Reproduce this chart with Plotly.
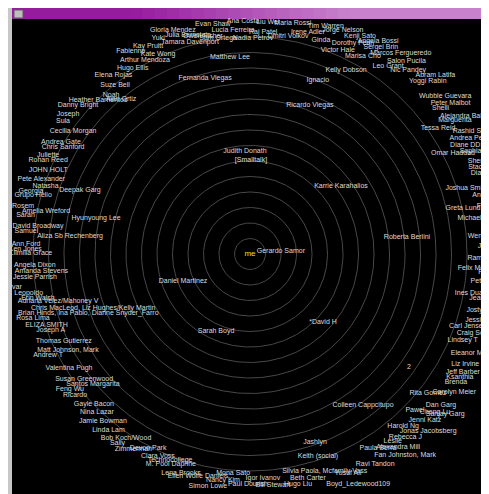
import numpy as np
import plotly.graph_objects as go

# ---- data (ring distance r, angle theta in degrees) ----
ring_radii = list(range(1, 15))

inner_names = ["Gerardo Samor", "Judith Donath", "[Smalltalk]", "Karrie Karahalios",
               "Roberta Berlini", "Daniel Martinez", "Sarah Boyd", "*David H",
               "Fernanda Viegas", "Matthew Lee", "Ignacio", "Kelly Dobson",
               "Ricardo Viegas", "Deepak Garg", "Hyunyoung Lee", "Aliza Sb Rechenberg",
               "Valentina Pugh", "Colleen Cappcitupo", "Jashlyn", "Keith (social)", "2",
               "Chris MacLeod, Liz Hughes/Kelly Martin", "Brian Hinds, Ina Pablo, Dianne Snyder_Farro",
               "Adriana Velez/Mahoney V"]
inner_r = [2.0, 6.65, 6.06, 7.33, 10.19, 4.66, 5.43, 6.44, 11.72, 12.78, 12.05, 13.39,
           10.36, 11.72, 10.2, 11.67, 13.8, 12.17, 12.83, 13.75, 12.58, 10.7, 11.1, 12.75]
inner_theta = [5.5, 92.8, 89.4, 36.8, 6.2, 202, 246.2, 317, 104.3, 95.8, 68.7, 62.4,
               68.1, 159.4, 166.8, 174.3, 212.2, 306.8, 289.1, 288.6, 324.6, 199, 200, 193.8]

outer_names = [
    "Heather Barrientos", "Danny Bright", "Joseph", "Sula", "Cecilia Morgan", "Andrea Gate",
    "Chris Sanford", "Juliette", "Rohan Reed", "JOHN HOLT", "Pete Alexander", "Natasha",
    "Georgia", "Grupo Helio", "Rosem", "Amelia Wreford", "Sarah", "David Broadway",
    "Samuel", "Ann Ford", "Ken Jones", "Lilmilla Grace", "Angela Dixon", "Amanda Stevens",
    "Jessie Parrish", "Ivar", "Leopoldo", "ELIZA SMITH", "Joseph A", "Thomas Gutierrez",
    "Matt Johnson, Mark", "Andrew T", "Susan Greenwood", "Santos Margarita", "Feng Wu",
    "Ricardo", "Gayle Bacon", "Nina Lazar", "Jamie Bowman", "Linda Lam", "Bob Koch/Wood",
    "Sally", "Zimmerman", "Technocollege", "M. Pool Daphne", "Lena Brooks",
    "Ellen Wolfe Daniels", "Nancy Kim", "Paul Dourish", "Bill Stewart", "Hugo Liu",
    "Boyd_Ledewood109", "Silvia Paola, Mcfamily Vass", "Ravi Tandon", "Fan Johnston, Mark",
    "Alexandra Mill", "Leslie", "Rebecca J", "Jonas Jacobsberg", "Jenni Katz", "Pawel",
    "Cheng Lu", "Sanjay Garg", "Dan Garg", "Carolyn Meier", "Brenda", "Ksanthia",
    "Jeff Barber", "Liz Irvine", "Eleanor Marques", "Lindsey T", "Craig Sorenson",
    "Jessica Long", "Jostyn Treloar", "Jeanne Bolt", "Pete Burke", "Pia", "Ramona Cho",
    "Jane", "Wendy Rand", "Michael Tang", "Fedora", "Anastasia", "Joshua Smither", "Dias",
    "Stacie Goo", "Sherry Lee", "Sophia", "Diane DDS", "Andrea Petrovic", "Rashid Sen",
    "Marguerita", "Alejandra Ballaji", "Shelli", "Peter Malbot", "Wubble Guevara",
    "Yoggi Rabin", "Abram Latifa", "Nic Pandey", "Salon Pucila", "Marcos Fergueredo",
    "Sergei Brin", "Angela Bossi", "Ginda", "Tim Warren", "Jorge Nelson", "Kenji Sato",
    "Dorothy Fenn", "Maria Rossi", "Liu Wei", "Ana Costa", "Evan Shaw", "Julia Bernstein",
    "Tamara Davenport", "Kay Pruitt", "Fabienne", "Arthur Mendoza", "Hugo Ellis",
    "Elena Rojas", "Suze Bell", "Noah", "Alan Ortiz", "Yuki",
    "Gloria Mendez", "Owen Fisher", "Lucia Ferreira", "Raj Patel", "Dmitri Volkov",
    "Irene Adler", "Kate Wong", "Sam Ortega", "Nadia Petrov", "Victor Hale",
    "Marisa Cho", "Leo Grant", "Tessa Reid", "Omar Haddad", "Greta Lund",
    "Felix Moreau", "Ines Duarte", "Carl Jensen", "Rita Gomez", "Harold Ng",
    "Paula Serra", "Yusuf Ali", "Beth Carter", "Igor Ivanov", "Mona Sato",
    "Simon Lowe", "Clara Voss", "Devon Park", "Erin Walsh", "Rosa Lima",
]
outer_r = [
    13.96, 14.68, 14.81, 14.8, 13.9, 14.17, 13.9, 14.5, 14.37, 14.1, 14.3, 13.9,
    14.7, 14.5, 14.97, 13.45, 14.7, 13.8, 14.5, 14.46, 14.5, 14.13, 13.9, 13.5,
    13.95, 15.25, 14.5, 13.9, 13.77, 13.25, 13.28, 14.57, 13.4, 13.15, 14.55,
    14.5, 14.0, 14.2, 14.35, 14.6, 14.3, 14.9, 14.7, 14.26, 14.5, 14.8,
    14.7, 14.7, 14.84, 14.97, 15.16, 16.4, 14.8, 15.77, 16.4,
    15.7, 15.2, 15.5, 16.2, 15.56, 14.65, 15.7, 16.3, 15.7, 15.9, 15.65, 15.7,
    15.7, 15.6, 16.0, 14.8, 15.75, 15.8, 15.8, 15.6, 15.45, 15.1, 15.36,
    15.2, 15.4, 14.9, 15.66, 15.8, 14.8, 15.6, 16.2, 16.3, 15.7, 15.7, 16.3, 16.3,
    15.8, 16.5, 15.5, 16.2, 16.2, 16.0, 16.6, 15.65, 16.0, 16.2,
    15.8, 16.0, 14.5, 15.5, 15.65, 15.75, 15.15, 15.16, 15.0, 15.0, 15.0, 14.7,
    14.2, 14.95, 15.2, 14.2, 14.2, 14.5, 13.95, 13.6, 13.0, 15.1,
    15.28, 14.39, 14.5, 14.35, 14.28, 14.8, 14.2, 14.09, 13.94, 14.33,
    14.7, 15.05, 14.6, 14.63, 14.06, 14.74, 14.6, 14.8, 14.57, 14.85,
    15.0, 15.48, 14.93, 14.48, 14.17, 15.2, 14.32, 14.14, 13.97, 14.6,
]
outer_theta = [
    134.6, 139.1, 142.4, 144.6, 145.2, 149.4, 150.2, 153.9, 155, 157.4, 160.3, 161.6,
    164, 164.8, 168, 168.1, 170.2, 172.5, 174.1, 177.4, 178.7, 179.7, 182.9, 184.6,
    186.1, 188, 190, 199.2, 201, 205, 207.8, 206.6, 217, 219.6, 217,
    218.9, 224, 225.9, 228.6, 231.3, 236, 235, 239.2, 248.8, 249.4, 252.5,
    256.8, 263.2, 269.5, 275.7, 281.8, 295.2, 289, 300.8, 307.6,
    307.5, 307.3, 310.3, 315.2, 316.5, 316.6, 319.5, 320.6, 321.7, 326, 328.1, 329.6,
    331, 332.9, 336.5, 338, 341.1, 344.2, 346.8, 349.5, 353.5, 355.6, 359,
    2, 4.3, 9, 11.4, 13.9, 16.7, 19.6, 20.3, 21.6, 25, 26.6, 27.3, 29.1,
    33.2, 32.7, 37.5, 37, 39, 44.2, 43.9, 49.3, 50.9, 53.1,
    57.7, 58.9, 71.6, 71.6, 67.5, 63.2, 64, 79.5, 85.6, 91.7, 99.2, 105.8,
    105.8, 116.1, 120.4, 118.5, 122.2, 127.4, 128.6, 131.2, 129.8, 113.1,
    109, 102.2, 94.3, 86.6, 80.1, 75.4, 114.7, 98.4, 89.2, 66.7,
    60.3, 53.7, 33.8, 26.5, 12.2, 356.5, 350.1, 341.7, 322, 311.7,
    303.4, 294.1, 284.5, 273.3, 265.6, 259.7, 245.5, 242.3, 191.7, 196.4,
]

self_name = ["me"]
self_r = [0]
self_theta = [0]


def to_xy(r, theta):
    r = np.asarray(r, dtype=float)
    t = np.radians(np.asarray(theta, dtype=float))
    return r * np.cos(t), r * np.sin(t)


# ---- figure ----
fig = go.Figure()

# concentric rings
phi = np.linspace(0, 2 * np.pi, 361)
for rr in ring_radii:
    fig.add_trace(go.Scatter(x=rr * np.cos(phi), y=rr * np.sin(phi), mode="lines",
                             line=dict(color="rgb(72,72,72)", width=1),
                             hoverinfo="skip"))

ox, oy = to_xy(outer_r, outer_theta)
fig.add_trace(go.Scatter(x=ox, y=oy, text=outer_names, mode="text",
                         textfont=dict(family="Liberation Sans", size=7, color="#dcdcdc"),
                         cliponaxis=False, hoverinfo="text"))

ix, iy = to_xy(inner_r, inner_theta)
fig.add_trace(go.Scatter(x=ix, y=iy, text=inner_names, mode="text",
                         textfont=dict(family="Liberation Sans", size=7, color="#dcdcdc"),
                         cliponaxis=False, hoverinfo="text"))

sx, sy = to_xy(self_r, self_theta)
fig.add_trace(go.Scatter(x=sx, y=sy, text=self_name, mode="text",
                         textfont=dict(family="Liberation Sans", size=8, color="#f0e000"),
                         cliponaxis=False, hoverinfo="text"))

W, H = 489, 494
cx, cy = 242, 246          # centre of the ring system, px from top-left
unit = 15.5                # px per ring

fig.update_layout(
    width=W, height=H,
    margin=dict(l=0, r=0, t=0, b=0),
    paper_bgcolor="black",
    plot_bgcolor="rgba(0,0,0,0)",
    showlegend=False,
    xaxis=dict(range=[-cx / unit, (W - cx) / unit], visible=False, fixedrange=True),
    yaxis=dict(range=[-(H - cy) / unit, cy / unit], visible=False, fixedrange=True),
)

# window chrome: title bar gradient, left frame, icon
shapes = []
n = 40
c0 = (150, 28, 158)
c1 = (200, 130, 205)
for i in range(n):
    t = i / (n - 1)
    t2 = min(1.0, max(0.0, (t - 0.25) / 0.45))
    col = tuple(int(c0[k] + (c1[k] - c0[k]) * t2) for k in range(3))
    shapes.append(dict(type="rect", xref="paper", yref="paper",
                       x0=i / n, x1=(i + 1) / n + 0.002,
                       y0=1 - 11 / H, y1=1, fillcolor="rgb(%d,%d,%d)" % col,
                       line=dict(width=0), layer="below"))
shapes.append(dict(type="rect", xref="paper", yref="paper", x0=0, x1=4 / W, y0=0, y1=1,
                   fillcolor="rgb(200,200,200)", line=dict(width=0), layer="above"))
shapes.append(dict(type="rect", xref="paper", yref="paper", x0=6 / W, x1=15 / W,
                   y0=1 - 10 / H, y1=1 - 2 / H,
                   fillcolor="rgb(190,190,190)", line=dict(width=1, color="rgb(90,90,90)"),
                   layer="above"))
fig.update_layout(shapes=shapes)

fig.write_html("out.html")
